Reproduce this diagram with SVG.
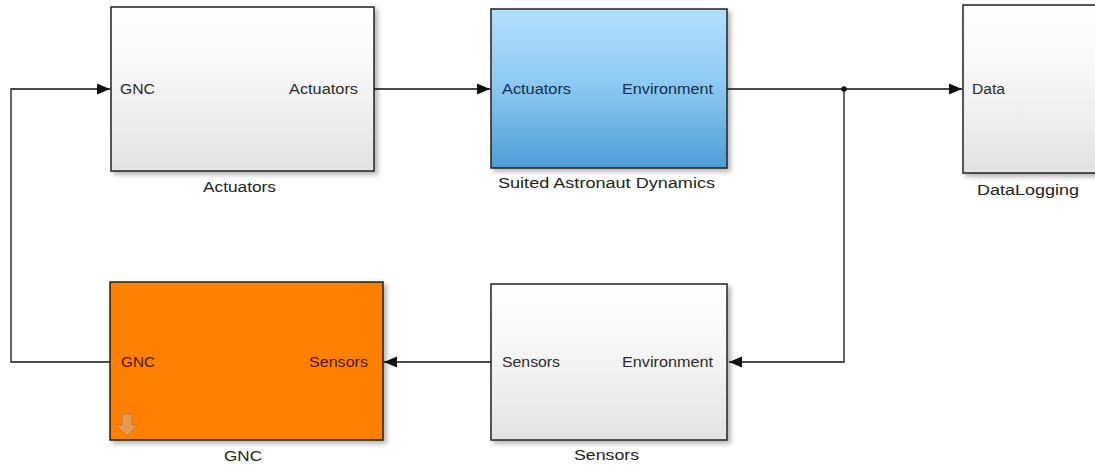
<svg xmlns="http://www.w3.org/2000/svg" width="1095" height="465" viewBox="0 0 1095 465">
<style>
text{font-family:"Liberation Sans",Arial,sans-serif;font-size:14px}
.cap{fill:#222}
.g{fill:#2a2a2a}
.b{fill:#14304e}
.o{fill:#4a1800}
.blk{stroke:#222;stroke-width:1.5}
.wire{fill:none;stroke:#111;stroke-width:1.3}
</style>
<defs>
<linearGradient id="gray" x1="0" y1="0" x2="0" y2="1">
<stop offset="0" stop-color="#ffffff"/><stop offset="0.4" stop-color="#f7f7f7"/><stop offset="1" stop-color="#e2e2e2"/>
</linearGradient>
<linearGradient id="blue" x1="0" y1="0" x2="0" y2="1">
<stop offset="0" stop-color="#b3dffd"/><stop offset="0.45" stop-color="#8fcbf3"/><stop offset="1" stop-color="#4d9dd6"/>
</linearGradient>
<filter id="sh" x="-5%" y="-5%" width="115%" height="120%">
<feDropShadow dx="3" dy="3" stdDeviation="2.5" flood-color="#000" flood-opacity="0.3"/>
</filter>
<marker id="arr" markerWidth="14" markerHeight="14" refX="13" refY="6.5" orient="auto" markerUnits="userSpaceOnUse">
<path d="M0,1 L13,6.5 L0,12 Z" fill="#111"/>
</marker>
</defs>

<g id="connectors">
<path class="wire" d="M374,89 H490" marker-end="url(#arr)"/>
<path class="wire" d="M727,89 H962" marker-end="url(#arr)"/>
<path class="wire" d="M844,89 V362 H729" marker-end="url(#arr)"/>
<path class="wire" d="M491,362 H384" marker-end="url(#arr)"/>
<path class="wire" d="M110,362 H11 V89 H110" marker-end="url(#arr)"/>
<circle cx="844" cy="89" r="2.8" fill="#111"/>
</g>

<g id="actuators">
<rect class="blk" x="111" y="7" width="263" height="164" fill="url(#gray)" filter="url(#sh)"/>
<text class="g" x="120" y="94" textLength="35" lengthAdjust="spacingAndGlyphs">GNC</text>
<text class="g" x="289" y="94" textLength="69" lengthAdjust="spacingAndGlyphs">Actuators</text>
<text class="cap" x="203" y="192" textLength="73" lengthAdjust="spacingAndGlyphs">Actuators</text>
</g>

<g id="suited-astronaut-dynamics">
<rect class="blk" x="491" y="9" width="236" height="159" fill="url(#blue)" filter="url(#sh)"/>
<text class="b" x="502" y="94" textLength="69" lengthAdjust="spacingAndGlyphs">Actuators</text>
<text class="b" x="622" y="94" textLength="91" lengthAdjust="spacingAndGlyphs">Environment</text>
<text class="cap" x="498" y="188" textLength="217" lengthAdjust="spacingAndGlyphs">Suited Astronaut Dynamics</text>
</g>

<g id="datalogging">
<rect class="blk" x="963" y="5" width="140" height="168" fill="url(#gray)" filter="url(#sh)"/>
<text class="g" x="972" y="94" textLength="33" lengthAdjust="spacingAndGlyphs">Data</text>
<text class="cap" x="977" y="195" textLength="102" lengthAdjust="spacingAndGlyphs">DataLogging</text>
</g>

<g id="gnc">
<rect class="blk" x="110" y="282" width="273" height="158" fill="#ff8000" filter="url(#sh)"/>
<text class="o" x="121" y="367" textLength="34" lengthAdjust="spacingAndGlyphs">GNC</text>
<text class="o" x="309" y="367" textLength="59" lengthAdjust="spacingAndGlyphs">Sensors</text>
<path d="M122,414 H132 V425 H138 L127,436 L116,425 H122 Z" fill="#e0a060" stroke="#c07030" stroke-width="0.8" opacity="0.85"/>
<text class="cap" x="224" y="461" textLength="38" lengthAdjust="spacingAndGlyphs">GNC</text>
</g>

<g id="sensors">
<rect class="blk" x="491" y="284" width="236" height="156" fill="url(#gray)" filter="url(#sh)"/>
<text class="g" x="502" y="367" textLength="58" lengthAdjust="spacingAndGlyphs">Sensors</text>
<text class="g" x="622" y="367" textLength="91" lengthAdjust="spacingAndGlyphs">Environment</text>
<text class="cap" x="574" y="460" textLength="65" lengthAdjust="spacingAndGlyphs">Sensors</text>
</g>
</svg>
